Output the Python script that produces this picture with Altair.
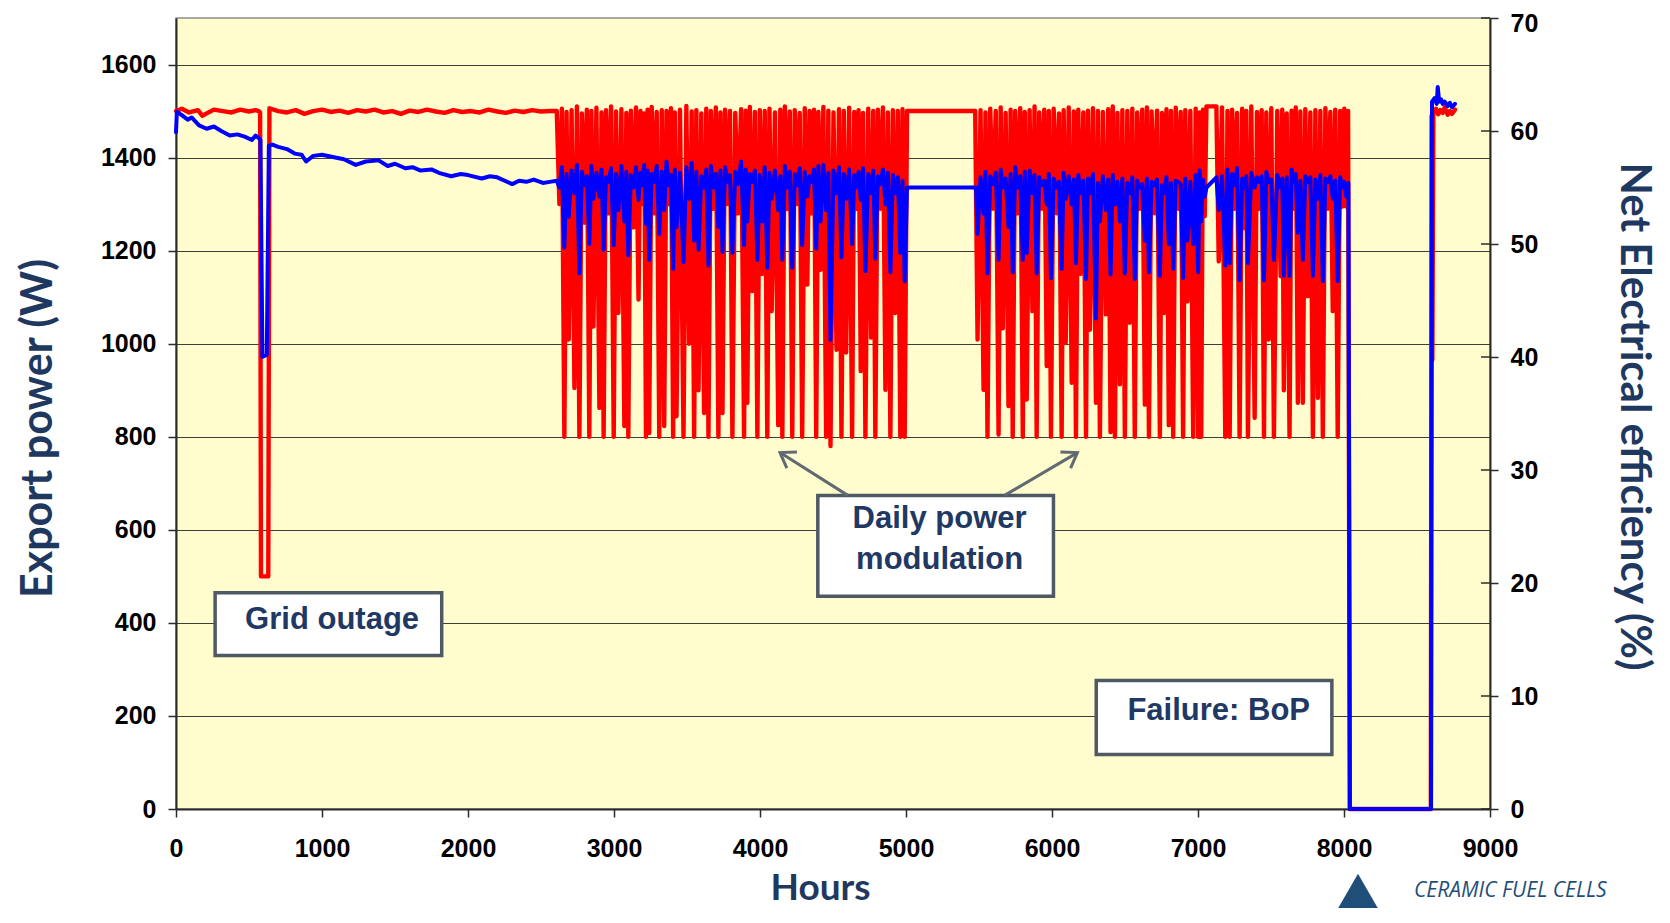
import altair as alt
import pandas as pd

# ------------------------------------------------------------------
# Data
# ------------------------------------------------------------------
# steady operation 0 -> 2608 h (incl. grid outage ~580-640 h)
red_steady = [(0, 1500), (40, 1505), (90, 1497), (150, 1502), (180, 1490), (210, 1495),
              (260, 1503), (320, 1500), (380, 1497), (440, 1503), (500, 1499), (545, 1502),
              (566, 1500), (576, 1497), (582, 500), (632, 500), (640, 1506), (700, 1500),
              (760, 1497), (820, 1502), (880, 1494), (940, 1500), (1000, 1503), (1060, 1498),
              (1120, 1501), (1180, 1496), (1240, 1502), (1300, 1499), (1360, 1503), (1420, 1497),
              (1480, 1500), (1540, 1494), (1600, 1501), (1660, 1498), (1720, 1503), (1780, 1499),
              (1840, 1496), (1900, 1502), (1960, 1498), (2020, 1500), (2080, 1497), (2140, 1503),
              (2200, 1499), (2260, 1496), (2320, 1501), (2380, 1498), (2440, 1502), (2500, 1499),
              (2560, 1500), (2608, 1500)]
blue_steady = [(0, 59.9), (6, 61.7), (40, 61.4), (80, 61.0), (107, 61.2), (158, 60.5), (210, 60.2),
               (260, 60.4), (310, 60.0), (368, 59.6), (420, 59.7), (470, 59.5), (520, 59.2),
               (545, 59.6), (566, 59.4), (578, 59.2), (592, 40.0), (622, 40.2), (636, 58.7),
               (660, 58.8), (700, 58.6), (760, 58.4), (813, 58.0), (860, 57.9), (891, 57.3),
               (940, 57.8), (1000, 57.9), (1074, 57.7), (1150, 57.5), (1231, 57.0), (1300, 57.3),
               (1388, 57.4), (1450, 56.9), (1500, 57.1), (1571, 56.7), (1620, 56.8), (1676, 56.5),
               (1750, 56.6), (1800, 56.3), (1885, 56.0), (1950, 56.2), (2000, 56.1), (2094, 55.8),
               (2150, 56.0), (2200, 55.9), (2303, 55.3), (2350, 55.6), (2400, 55.5), (2450, 55.7),
               (2513, 55.4), (2560, 55.5), (2608, 55.6)]

# daily modulation, block 1: (hour, export power minimum W, efficiency minimum %)
mod1_dips = [(2626, 1300, 55.0), (2660, 800, 49.7), (2690, 1009, 52.4), (2729, 905, 54.5),
             (2763, 800, 47.4), (2797, 1260, 55.2), (2831, 800, 50.0), (2859, 1037, 54.0),
             (2900, 862, 54.2), (2929, 800, 49.5), (2962, 1280, 55.5), (2998, 800, 49.9),
             (3030, 1066, 53.0), (3071, 823, 52.0), (3098, 800, 49.0), (3133, 1250, 55.0),
             (3168, 1095, 53.9), (3195, 1300, 55.2), (3219, 800, 51.8), (3241, 808, 48.6),
             (3275, 1280, 55.5), (3310, 800, 50.9), (3344, 823, 53.0), (3375, 1300, 55.2),
             (3405, 800, 47.8), (3428, 844, 51.5), (3476, 800, 48.4), (3515, 1000, 54.0),
             (3549, 800, 50.3), (3579, 900, 49.5), (3617, 851, 55.0), (3647, 800, 48.1),
             (3680, 1290, 55.0), (3715, 800, 51.5), (3743, 851, 49.3), (3778, 1300, 55.5),
             (3811, 800, 49.2), (3850, 1280, 55.3), (3891, 800, 49.9), (3913, 873, 52.0),
             (3948, 1113, 55.5), (3982, 800, 48.6), (4015, 1150, 52.0), (4050, 800, 47.9),
             (4080, 1070, 54.0), (4125, 825, 53.0), (4153, 800, 48.6), (4187, 1290, 55.0),
             (4221, 800, 47.9), (4255, 1300, 55.2), (4289, 800, 49.9), (4324, 1127, 54.2),
             (4355, 1280, 55.5), (4385, 800, 49.6), (4415, 1159, 52.0), (4453, 800, 53.0),
             (4483, 780, 41.5), (4524, 987, 54.5), (4558, 800, 48.8), (4590, 981, 54.0),
             (4631, 800, 50.0), (4660, 1290, 55.0), (4690, 941, 53.9), (4722, 800, 47.6),
             (4761, 1013, 54.5), (4790, 800, 48.7), (4825, 1290, 55.3), (4859, 901, 53.5),
             (4893, 800, 47.5), (4927, 1066, 54.5), (4961, 800, 49.2), (4991, 800, 46.7)]
mod1_red_peaks = [1505, 1498, 1502, 1510, 1495, 1503, 1500, 1507, 1497, 1502,
                  1510, 1499, 1504, 1496, 1501, 1508, 1500, 1495, 1503, 1509,
                  1498, 1502, 1500, 1506, 1497, 1503, 1511, 1499, 1502, 1495,
                  1505, 1500, 1508, 1497, 1503, 1500, 1496, 1504, 1501, 1509,
                  1498, 1502, 1500, 1505, 1497, 1503, 1510, 1499, 1502, 1496,
                  1506, 1500, 1503, 1498, 1509, 1501, 1497, 1504, 1500, 1507,
                  1498, 1502, 1496, 1505, 1500, 1503, 1508, 1497, 1502, 1500, 1504]
mod1_blue_peaks = [56.8, 56.2, 56.5, 57.0, 56.4, 56.0, 56.9, 56.3, 56.6, 55.9,
                   56.7, 56.2, 56.9, 56.4, 56.1, 56.8, 56.3, 57.0, 56.5, 56.2,
                   56.9, 56.4, 57.3, 56.1, 56.6, 56.3, 56.8, 57.2, 56.4, 56.0,
                   56.6, 56.9, 56.2, 56.5, 56.8, 56.1, 56.4, 57.3, 56.6, 56.2,
                   56.5, 56.1, 56.8, 56.3, 56.5, 56.0, 56.9, 56.4, 56.2, 56.7,
                   56.4, 56.0, 56.6, 56.9, 57.0, 56.3, 56.5, 56.8, 56.2, 56.6,
                   56.1, 56.4, 56.7, 56.2, 56.5, 56.0, 56.6, 56.3, 56.1, 55.9, 55.6]

red_flat_1 = [(5007, 1500), (5474, 1500)]
blue_flat_1 = [(5007, 55.0), (5480, 55.0)]

mod2_dips = [(5490, 1009, 50.9), (5531, 901, 52.7), (5558, 800, 47.4), (5596, 1290, 55.3),
             (5634, 805, 48.6), (5663, 1033, 55.0), (5702, 866, 51.5), (5731, 800, 47.5),
             (5765, 1280, 55.0), (5800, 800, 48.6), (5827, 880, 49.2), (5866, 1070, 54.5),
             (5895, 800, 47.4), (5930, 1290, 55.2), (5964, 952, 53.5), (5993, 800, 47.0),
             (6030, 1280, 55.0), (6066, 800, 47.8), (6094, 1002, 54.0), (6135, 916, 53.5),
             (6164, 800, 48.3), (6196, 1150, 54.5), (6233, 800, 46.9), (6260, 1030, 54.5),
             (6301, 873, 43.4), (6328, 800, 52.0), (6369, 1063, 53.0), (6401, 810, 47.3),
             (6431, 800, 53.5), (6465, 913, 52.0), (6499, 800, 47.4), (6533, 1045, 54.5),
             (6567, 800, 46.9), (6600, 1290, 55.0), (6636, 869, 50.3), (6664, 800, 47.5),
             (6700, 1280, 55.2), (6739, 800, 47.2), (6768, 1066, 54.5), (6800, 825, 50.0),
             (6830, 800, 47.8), (6865, 1290, 55.5), (6898, 800, 47.0), (6928, 1091, 50.3),
             (6967, 800, 50.0), (7001, 800, 47.5), (7022, 800, 52.0), (7046, 1274, 54.2)]
mod2_red_peaks = [1502, 1497, 1505, 1500, 1508, 1496, 1503, 1500, 1506, 1498,
                  1502, 1510, 1497, 1503, 1500, 1505, 1495, 1502, 1508, 1499,
                  1503, 1497, 1501, 1506, 1500, 1498, 1504, 1510, 1496, 1502,
                  1500, 1505, 1497, 1503, 1508, 1499, 1501, 1496, 1504, 1500,
                  1507, 1498, 1502, 1500, 1505, 1497, 1503]
mod2_blue_peaks = [55.9, 56.4, 56.0, 56.3, 56.6, 55.8, 56.2, 56.8, 56.0, 56.4,
                   56.5, 56.1, 55.9, 55.6, 56.2, 55.8, 55.5, 56.3, 56.0, 55.7,
                   56.1, 55.6, 55.8, 56.2, 55.4, 56.0, 55.7, 56.1, 55.5, 55.8,
                   55.4, 55.9, 55.6, 55.3, 55.8, 55.5, 55.7, 55.2, 55.9, 55.4,
                   55.6, 55.3, 55.8, 55.5, 56.1, 56.5, 55.7]

red_flat_2 = [(7058, 1510), (7126, 1510)]
blue_flat_2 = [(7058, 55.0), (7126, 55.9)]

mod3_dips = [(7142, 1177, 53.0), (7187, 800, 48.1), (7217, 800, 48.3), (7250, 1290, 55.2),
             (7285, 800, 46.8), (7320, 1248, 55.0), (7342, 800, 48.3), (7388, 841, 55.0),
             (7420, 1290, 55.5), (7452, 800, 46.8), (7484, 1009, 55.5), (7520, 800, 48.6),
             (7566, 1145, 55.0), (7588, 900, 47.2), (7627, 800, 47.2), (7655, 1290, 55.5),
             (7684, 873, 51.0), (7718, 873, 48.6), (7752, 1102, 55.5), (7787, 800, 47.2),
             (7821, 884, 54.0), (7855, 800, 46.7), (7890, 1290, 55.5), (7923, 1070, 54.0),
             (7957, 800, 46.7), (7990, 1295, 55.0), (8014, 1295, 54.2)]
mod3_red_peaks = [1508, 1500, 1503, 1496, 1505, 1500, 1510, 1498, 1502, 1497,
                  1506, 1500, 1503, 1495, 1501, 1508, 1499, 1504, 1497, 1502,
                  1500, 1506, 1498, 1503, 1500, 1505]
mod3_blue_peaks = [56.0, 56.6, 56.2, 56.7, 55.8, 56.0, 56.3, 55.9, 56.0, 56.4,
                   55.7, 56.1, 55.8, 55.9, 56.6, 56.2, 55.6, 56.0, 55.9, 55.7,
                   56.1, 55.8, 56.0, 55.6, 55.9, 55.5]

# BoP failure and restart
red_failure = [(8028, 1500), (8040, 0), (8595, 0)]
blue_failure = [(8030, 55.4), (8040, 0), (8596, 0)]
red_restart = [(8600, 1490), (8605, 965), (8612, 1500), (8630, 1505), (8645, 1493), (8660, 1502),
               (8676, 1496), (8690, 1508), (8710, 1492), (8725, 1500), (8740, 1494), (8760, 1503)]
blue_restart = [(8603, 62.6), (8620, 62.9), (8635, 62.4), (8642, 63.9), (8652, 62.6), (8665, 62.8),
                (8676, 62.4), (8690, 62.6), (8710, 62.2), (8725, 62.5), (8740, 62.1), (8760, 62.4)]

# axis ticks
x_ticks = [0, 1000, 2000, 3000, 4000, 5000, 6000, 7000, 8000, 9000]
power_ticks = [0, 200, 400, 600, 800, 1000, 1200, 1400, 1600]
eff_ticks = [0, 10, 20, 30, 40, 50, 60, 70]

# annotations (hours / W)
box_x1 = [268, 4396, 6303]
box_x2 = [1820, 6010, 7917]
box_y1 = [330, 457, 117]
box_y2 = [465, 674, 276]
label_text = ["Grid outage", "Daily power", "modulation", "Failure: BoP"]
label_x = [1069, 5230, 5230, 7142]
label_y = [386, 603, 515, 192]
arrow_from_x = [4601, 5675]
arrow_from_y = [674, 674]
arrow_to_x = [4137, 6174]
arrow_to_y = [766, 766]
arrow_angle = [302, 58]


# ------------------------------------------------------------------
def cycle_path(dips, red_peaks, blue_peaks):
    red, blue = [], []
    for i, (h, rmin, bmin) in enumerate(dips):
        red.append((h, rmin))
        blue.append((h, bmin))
        if i < len(dips) - 1:
            hm = (h + dips[i + 1][0]) / 2
            red.append((hm, red_peaks[min(i, len(red_peaks) - 1)]))
            blue.append((hm, blue_peaks[min(i, len(blue_peaks) - 1)]))
    return red, blue


r1, b1 = cycle_path(mod1_dips, mod1_red_peaks, mod1_blue_peaks)
r2, b2 = cycle_path(mod2_dips, mod2_red_peaks, mod2_blue_peaks)
r3, b3 = cycle_path(mod3_dips, mod3_red_peaks, mod3_blue_peaks)

red_pts = red_steady + r1 + red_flat_1 + r2 + red_flat_2 + r3 + red_failure + red_restart
blue_pts = blue_steady + b1 + blue_flat_1 + b2 + blue_flat_2 + b3 + blue_failure + blue_restart

red_df = pd.DataFrame(red_pts, columns=["hours", "value"])
red_df["i"] = range(len(red_df))
blue_df = pd.DataFrame(blue_pts, columns=["hours", "eff"])
blue_df["i"] = range(len(blue_df))

W, H = 1314, 791
NAVY = "#1F3860"

x_scale = alt.Scale(domain=[0, 9000], nice=False, zero=False)
yl_scale = alt.Scale(domain=[0, 1700], nice=False)
yr_scale = alt.Scale(domain=[0, 70], nice=False)

common_axis = dict(labelFont="Liberation Sans", labelFontWeight="bold", labelFontSize=25,
                   labelColor="black", tickSize=8, tickColor="#2B2B2B", tickWidth=1.5,
                   domainColor="#2B2B2B", domainWidth=2, titleFont="Lato",
                   titleFontWeight="bold", titleColor=NAVY,
                   labelOverlap=False, titleAlign="center")

x_axis = alt.Axis(values=x_ticks, format="d", title="Hours", grid=False, labelPadding=19,
                  labelFlush=False, titleX=644, titleY=90, titleBaseline="alphabetic",
                  titleFontSize=37, **common_axis)
yl_axis = alt.Axis(values=power_ticks, format="d", title="Export power (W)", grid=True,
                   gridColor="#3D3D3D", gridWidth=1.2, labelPadding=12, titleAngle=-90,
                   titleX=-138, titleY=410, titleBaseline="middle", titleFontSize=43,
                   **common_axis)
yr_axis = alt.Axis(values=eff_ticks, format="d", title="Net Electrical efficiency (%)",
                   grid=False, orient="right", labelPadding=12, titleAngle=90,
                   titleX=143, titleY=398, titleBaseline="middle", titleFontSize=42,
                   labelOffset={"condition": {"test": "datum.value == 70", "value": 5},
                                "value": 0},
                   **common_axis)

X = alt.X("hours:Q", scale=x_scale)
YL = alt.Y("value:Q", scale=yl_scale)
YR = alt.Y("eff:Q", scale=yr_scale)

red = alt.Chart(red_df).mark_line(color="#FF0000", strokeWidth=4.4, strokeJoin="round",
                                  strokeCap="round").encode(
    x=alt.X("hours:Q", scale=x_scale, axis=x_axis),
    y=alt.Y("value:Q", scale=yl_scale, axis=yl_axis),
    order="i:Q")

boxes_df = pd.DataFrame({"hours": box_x1, "hours2": box_x2, "value": box_y1, "value2": box_y2})
boxes = alt.Chart(boxes_df).mark_rect(fill="white", stroke="#4F5963", strokeWidth=3.5).encode(
    x=X, x2="hours2:Q", y=YL, y2="value2:Q")

labels_df = pd.DataFrame({"hours": label_x, "value": label_y, "label": label_text})
labels = alt.Chart(labels_df).mark_text(font="Liberation Sans", fontWeight="bold", fontSize=31,
                                        color="#1F3864", baseline="alphabetic",
                                        align="center").encode(
    x=X, y=YL, text="label:N")

shaft_df = pd.DataFrame({"hours": arrow_from_x, "value": arrow_from_y,
                         "hours2": arrow_to_x, "value2": arrow_to_y})
shafts = alt.Chart(shaft_df).mark_rule(color="#5F6A72", strokeWidth=3).encode(
    x=X, x2="hours2:Q", y=YL, y2="value2:Q")

head_df = pd.DataFrame({"hours": arrow_to_x, "value": arrow_to_y, "angle": arrow_angle})
heads = alt.Chart(head_df).mark_point(shape="M -0.75 1.1 L 0 0 L 0.75 1.1", filled=False,
                                      size=650, strokeWidth=3, color="#5F6A72",
                                      opacity=1).encode(
    x=X, y=YL, angle=alt.Angle("angle:Q", scale=None))

logo_df = pd.DataFrame({"name": ["Ceramic Fuel Cells"]})
logo_tri = alt.Chart(logo_df).mark_point(shape="triangle-up", filled=True, size=1764,
                                         color="#1F4E79", opacity=1).encode(
    x=alt.value(1182), y=alt.value(874))
logo_txt = alt.Chart(logo_df).mark_text(font="Open Sans", fontStyle="italic", fontSize=21,
                                        color="#1F4E79", align="left", baseline="alphabetic").encode(
    x=alt.value(1238), y=alt.value(879), text=alt.value("CERAMIC FUEL CELLS"))

blue = alt.Chart(blue_df).mark_line(color="#0000FF", strokeWidth=4.0, strokeJoin="round",
                                    strokeCap="round").encode(
    x=X, y=alt.Y("eff:Q", scale=yr_scale, axis=yr_axis), order="i:Q")

inner_ticks = alt.Chart(pd.DataFrame({"eff": eff_ticks})).mark_rule(
    color="#2B2B2B", strokeWidth=1.5).encode(
    y=YR, x=alt.value(W - 9), x2=alt.value(W))

left_group = alt.layer(red, boxes, labels, shafts, heads, logo_tri, logo_txt)
right_group = alt.layer(blue, inner_ticks)

chart = alt.layer(left_group, right_group).resolve_scale(y="independent").properties(
    width=W, height=H,
    padding={"left": 168, "top": 10, "right": 172, "bottom": 99},
    autosize=alt.AutoSizeParams(type="none"),
    background="white",
).configure_view(fill="#FFFDCD", stroke="#8C8C8C", strokeWidth=1.5)

chart.save("out.html", embed_options={"renderer": "svg", "actions": False})
